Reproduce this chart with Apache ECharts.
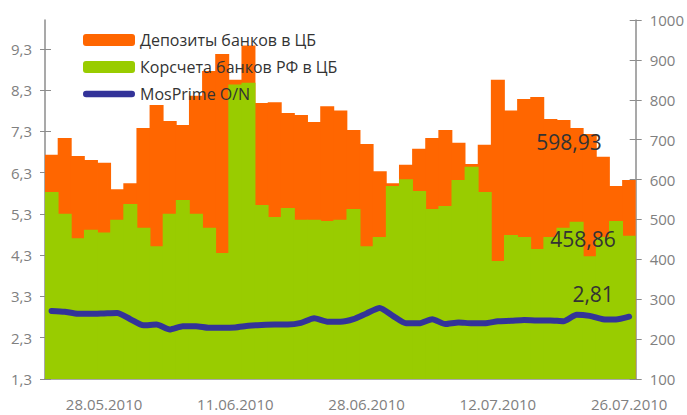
<!DOCTYPE html>
<html>
<head>
<meta charset="utf-8">
<script src="https://cdn.jsdelivr.net/npm/echarts@6/dist/echarts.min.js"></script>
<style>
  html, body { margin: 0; padding: 0; background: #fff; }
  #chart { width: 687px; height: 415px; }
</style>
</head>
<body>
<div id="chart"></div>
<script>
  // рабочие дни 24.05.2010 - 26.07.2010
  const dates = [
    '24.05.2010', '25.05.2010', '26.05.2010', '27.05.2010', '28.05.2010', '31.05.2010',
    '01.06.2010', '02.06.2010', '03.06.2010', '04.06.2010',
    '07.06.2010', '08.06.2010', '09.06.2010', '10.06.2010', '11.06.2010',
    '15.06.2010', '16.06.2010', '17.06.2010', '18.06.2010',
    '21.06.2010', '22.06.2010', '23.06.2010', '24.06.2010', '25.06.2010',
    '28.06.2010', '29.06.2010', '30.06.2010', '01.07.2010', '02.07.2010',
    '05.07.2010', '06.07.2010', '07.07.2010', '08.07.2010', '09.07.2010',
    '12.07.2010', '13.07.2010', '14.07.2010', '15.07.2010', '16.07.2010',
    '19.07.2010', '20.07.2010', '21.07.2010', '22.07.2010', '23.07.2010',
    '26.07.2010'
  ];

  const deposits = [
    662, 704, 659, 649, 642, 576, 591, 729, 787, 747,
    737, 810, 872, 915, 850, 936, 792, 794, 767, 762,
    744, 784, 773, 724, 689, 621, 591, 637, 677, 704,
    724, 692, 639, 687, 850, 773, 802, 807, 752, 749,
    729, 714, 657, 584, 598.93
  ];

  const korsheta = [
    569, 514, 453, 474, 467, 499, 539, 479, 433, 514,
    549, 514, 479, 416, 838, 843, 536, 506, 529, 499,
    499, 496, 499, 526, 433, 456, 584, 601, 571, 526,
    534, 599, 632, 569, 396, 461, 456, 426, 456, 479,
    494, 408, 456, 496, 458.86
  ];

  const mosprime = [
    2.95, 2.93, 2.88, 2.88, 2.89, 2.90, 2.75, 2.60, 2.62, 2.50,
    2.58, 2.58, 2.54, 2.54, 2.55, 2.59, 2.61, 2.62, 2.62, 2.66,
    2.77, 2.69, 2.69, 2.75, 2.89, 3.02, 2.83, 2.65, 2.65, 2.75,
    2.63, 2.67, 2.65, 2.65, 2.70, 2.71, 2.73, 2.72, 2.72, 2.70,
    2.86, 2.83, 2.75, 2.74, 2.81
  ];

  const leftTicks = [1.3, 2.3, 3.3, 4.3, 5.3, 6.3, 7.3, 8.3, 9.3];

  const FONT = 'Open Sans';
  const last = dates.length - 1;
  const comma = v => String(v).replace('.', ',');

  const lastLabel = (ofs) => ({
    show: true,
    position: 'top',
    offset: ofs,
    fontFamily: FONT,
    fontSize: 21,
    color: '#333333',
    formatter: p => comma(p.value)
  });

  const withLastLabel = (arr, ofs) =>
    arr.map((v, i) => (i === last ? { value: v, label: lastLabel(ofs) } : v));

  const axisGray = '#8c8c8c';
  const orange = '#ff6600';
  const green = '#99cc00';
  const blue = '#333399';

  // толстая линия с круглыми концами для легенды
  const lineIcon = 'path://M3.5,0H53.5A3.5,3.5,0,0,1,53.5,7H3.5A3.5,3.5,0,0,1,3.5,0Z';

  const barStyle = c => ({
    color: c,
    borderWidth: 0,
    borderColor: c,
    shadowBlur: 0,
    shadowColor: 'transparent',
    opacity: 1
  });

  const chart = echarts.init(document.getElementById('chart'), null, { renderer: 'svg' });
  chart.setOption({
    animation: false,
    grid: { left: 45, right: 51, top: 20, bottom: 36 },
    legend: {
      orient: 'vertical',
      left: 83,
      top: 32,
      padding: 0,
      itemWidth: 52,
      itemHeight: 12,
      itemGap: 11,
      textStyle: { fontFamily: FONT, fontSize: 16, color: '#333333' },
      data: [
        'Депозиты банков в ЦБ',
        'Корсчета банков РФ в ЦБ',
        { name: 'MosPrime O/N', icon: lineIcon }
      ]
    },
    xAxis: {
      type: 'category',
      data: dates,
      boundaryGap: true,
      axisLine: { lineStyle: { color: axisGray, width: 1.5 } },
      axisTick: { interval: 4, length: 5, lineStyle: { color: axisGray } },
      axisLabel: {
        interval: i => i % 10 === 4,
        margin: 17,
        fontFamily: FONT,
        fontSize: 15,
        color: '#808080'
      },
      splitLine: { show: false },
      splitArea: { show: false }
    },
    yAxis: [
      {
        type: 'value',
        position: 'left',
        min: 1.3,
        max: 10,
        axisLine: { show: true, lineStyle: { color: axisGray, width: 1.5 } },
        axisTick: { show: true, length: 5, customValues: leftTicks, lineStyle: { color: axisGray } },
        axisLabel: {
          customValues: leftTicks,
          margin: 13,
          fontFamily: FONT,
          fontSize: 15,
          color: '#808080',
          formatter: v => v.toFixed(1).replace('.', ',')
        },
        splitLine: { show: false }
      },
      {
        type: 'value',
        position: 'right',
        min: 100,
        max: 1000,
        interval: 100,
        axisLine: { show: true, lineStyle: { color: axisGray, width: 1.5 } },
        axisTick: { show: true, length: 6, lineStyle: { color: axisGray } },
        axisLabel: {
          margin: 14,
          fontFamily: FONT,
          fontSize: 15,
          color: '#808080',
          formatter: v => String(v)
        },
        splitLine: { show: false }
      },
      {
        type: 'value',
        position: 'left',
        min: 1.3,
        max: 10,
        axisLine: { show: false },
        axisTick: { show: true, inside: true, length: 6, customValues: leftTicks, lineStyle: { color: axisGray } },
        axisLabel: { show: false },
        splitLine: { show: false }
      },
      {
        type: 'value',
        position: 'right',
        min: 100,
        max: 1000,
        interval: 100,
        axisLine: { show: false },
        axisTick: { show: true, inside: true, length: 6, lineStyle: { color: axisGray } },
        axisLabel: { show: false },
        splitLine: { show: false }
      }
    ],
    series: [
      {
        name: 'Депозиты банков в ЦБ',
        type: 'bar',
        yAxisIndex: 1,
        barWidth: 14,
        barGap: '-100%',
        itemStyle: barStyle(orange),
        data: withLastLabel(deposits, [-60, -22])
      },
      {
        name: 'Корсчета банков РФ в ЦБ',
        type: 'bar',
        yAxisIndex: 1,
        barWidth: 14,
        barGap: '-100%',
        itemStyle: barStyle(green),
        data: withLastLabel(korsheta, [-46, 19])
      },
      {
        name: 'MosPrime O/N',
        type: 'line',
        yAxisIndex: 0,
        symbol: 'circle',
        symbolSize: 1,
        showSymbol: true,
        showAllSymbol: true,
        smooth: 0.2,
        lineStyle: { color: blue, width: 6, cap: 'round', join: 'round' },
        itemStyle: { color: blue },
        data: withLastLabel(mosprime, [-36, -7])
      }
    ]
  });
</script>
</body>
</html>
